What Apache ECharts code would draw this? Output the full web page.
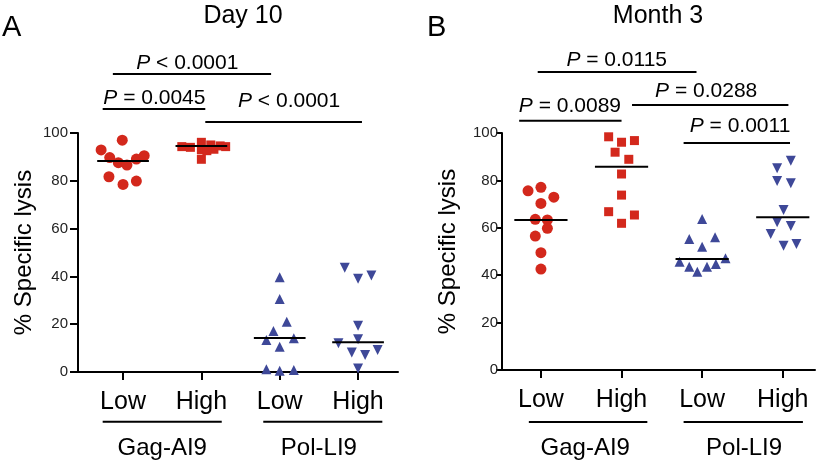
<!DOCTYPE html>
<html><head><meta charset="utf-8">
<script src="https://cdn.jsdelivr.net/npm/echarts@6/dist/echarts.min.js"></script>
<style>html,body{margin:0;padding:0;background:#fff}#c{width:825px;height:462px}</style>
</head><body><div id="c"></div>
<script>
// ---------- data ----------
const categories = ['Low', 'High', 'Low', 'High'];
const groupNames = ['Gag-AI9', 'Pol-LI9'];
const yTicks = [0, 20, 40, 60, 80, 100];
const panelTitles = ['Day 10', 'Month 3'];
const panelLetters = ['A', 'B'];

// Panel A (Day 10) values and horizontal spread (in category units)
const A_gagLow = [92.9, 97.0, 89.7, 87.6, 86.6, 89.1, 90.5, 81.7, 78.5, 79.9];
const A_gagLowJit = [-0.28, -0.01, -0.17, -0.06, 0.05, 0.17, 0.27, -0.18, 0, 0.17];
const A_gagHigh = [94.3, 94.0, 96.1, 93.0, 89.0, 95.0, 93.2, 94.6, 94.3, 92.6];
const A_gagHighJit = [-0.25, -0.14, 0, 0, 0, 0.12, 0.16, 0.24, 0.31, 0.07];
const A_polLow = [39.6, 30.5, 21.0, 17.2, 13.4, 14.1, 10.6, 1.1, 0.5, 0.8];
const A_polLowJit = [0, 0, 0.09, -0.08, -0.17, 0.18, 0, -0.17, 0, 0.18];
const A_polHigh = [43.6, 39.0, 40.4, 19.4, 12.0, 13.7, 8.2, 7.1, 9.2, 1.5];
const A_polHighJit = [-0.17, 0, 0.17, 0, -0.25, 0, -0.08, 0.09, 0.25, 0];
const A_medians = [88.3, 94.6, 14.2, 12.4];

// Panel B (Month 3)
const B_gagLow = [75.6, 77.1, 72.9, 70.3, 63.6, 63.3, 59.8, 56.5, 49.5, 42.6];
const B_gagLowJit = [-0.16, 0, 0.16, 0, -0.07, 0.08, 0.08, -0.07, 0, 0];
const B_gagHigh = [98.4, 96.1, 96.8, 91.9, 88.9, 82.7, 73.8, 66.8, 65.4, 61.9];
const B_gagHighJit = [-0.16, 0, 0.16, -0.08, 0.09, 0, 0, -0.16, 0.16, 0];
const B_polLow = [63.7, 55.3, 56.0, 52.0, 45.7, 43.6, 41.5, 43.6, 44.7, 47.1];
const B_polLowJit = [0, -0.16, 0.16, 0, -0.28, -0.16, -0.06, 0.06, 0.17, 0.29];
const B_polHigh = [88.3, 85.1, 79.7, 78.8, 67.5, 62.3, 60.8, 57.4, 52.4, 53.2];
const B_polHighJit = [0.1, -0.07, -0.07, 0.1, 0.01, -0.07, 0.1, -0.15, 0.01, 0.17];
const B_medians = [63.3, 85.8, 46.8, 64.4];

// significance brackets: [fromX, toX, lineY, labelX, labelY, operator, p]
const A_brackets = [
  [-0.13, 1.89, 124.7, 0.82, 129.3, '<', '0.0001'],
  [-0.26, 1.05, 110.0, 0.40, 114.6, '=', '0.0045'],
  [1.05, 3.05, 104.6, 2.12, 113.4, '<', '0.0001']
];
const B_brackets = [
  [-0.04, 1.93, 125.7, 0.94, 130.8, '=', '0.0115'],
  [-0.27, 1.00, 105.2, 0.36, 111.4, '=', '0.0089'],
  [1.13, 3.07, 111.8, 2.05, 117.8, '=', '0.0288'],
  [1.77, 3.09, 95.8, 2.47, 102.7, '=', '0.0011']
];
// group underline spans and label positions (x units, y units below axis)
const A_groupLines = [[-0.26, 1.26], [1.79, 3.31]];
const A_groupLineY = -20.8, A_groupLabelY = -32.0;
const A_groupLabelX = [0.5, 2.5];
const B_groupLines = [[-0.15, 1.32], [1.77, 3.25]];
const B_groupLineY = -21.9, B_groupLabelY = -33.0;
const B_groupLabelX = [0.55, 2.52];

// ---------- styling ----------
const FONT = "'Liberation Sans', Arial, Helvetica, sans-serif";
const RED = '#d3281c';
const BLUE = '#3e4898';

const chart = echarts.init(document.getElementById('c'), null, {renderer: 'canvas'});

function pts(vals, jit, g) { return vals.map((v, i) => [g + jit[i], v]); }

function panelSeries(p, sets, medians, brackets, gLines, gLineY, gLabelX, gLabelY) {
  const s = [];
  const styles = [
    {symbol: 'circle', size: 11, color: RED, rot: 0},
    {symbol: 'rect', size: 9, color: RED, rot: 0},
    {symbol: 'triangle', size: 10, color: BLUE, rot: 0},
    {symbol: 'triangle', size: 10, color: BLUE, rot: 180}
  ];
  sets.forEach((set, g) => {
    const st = styles[g];
    s.push({
      type: 'scatter', xAxisIndex: p, yAxisIndex: p, z: 2,
      symbol: st.symbol, symbolSize: st.size, symbolRotate: st.rot,
      itemStyle: {color: st.color, opacity: 1},
      data: pts(set[0], set[1], g), silent: true
    });
    s.push({
      type: 'line', xAxisIndex: p, yAxisIndex: p, z: 5, symbol: 'none', silent: true,
      lineStyle: {color: '#000', width: 2},
      data: [[g - 0.33, medians[g]], [g + 0.33, medians[g]]]
    });
  });
  brackets.forEach(b => {
    s.push({
      type: 'line', xAxisIndex: p, yAxisIndex: p, clip: false, symbol: 'none', silent: true,
      lineStyle: {color: '#000', width: 2},
      data: [[b[0], b[2]], [b[1], b[2]]]
    });
    s.push({
      type: 'scatter', xAxisIndex: p, yAxisIndex: p, clip: false, symbolSize: 0, silent: true,
      itemStyle: {opacity: 1},
      data: [[b[3], b[4]]],
      label: {
        show: true, position: [0, 0], align: 'center', verticalAlign: 'middle',
        formatter: '{i|P}{n| ' + b[5] + ' ' + b[6] + '}',
        rich: {
          i: {fontStyle: 'italic', fontSize: 21, fontFamily: FONT, color: '#000'},
          n: {fontSize: 21, fontFamily: FONT, color: '#000'}
        }
      }
    });
  });
  gLines.forEach((gl, k) => {
    s.push({
      type: 'line', xAxisIndex: p, yAxisIndex: p, clip: false, symbol: 'none', silent: true,
      lineStyle: {color: '#000', width: 2},
      data: [[gl[0], gLineY], [gl[1], gLineY]]
    });
    s.push({
      type: 'scatter', xAxisIndex: p, yAxisIndex: p, clip: false, symbolSize: 0, silent: true,
      itemStyle: {opacity: 1},
      data: [[gLabelX[k], gLabelY]],
      label: {show: true, position: [0, 0], align: 'center', verticalAlign: 'middle',
        formatter: groupNames[k], fontSize: 24, fontFamily: FONT, color: '#000'}
    });
  });
  return s;
}

function xAxis(p, min, max) {
  return {
    type: 'value', gridIndex: p, min: min, max: max,
    axisLine: {show: true, onZero: false, lineStyle: {color: '#000', width: 2}},
    axisTick: {show: true, customValues: [0, 1, 2, 3], length: 8, lineStyle: {color: '#000', width: 2}},
    axisLabel: {show: true, customValues: [0, 1, 2, 3], formatter: v => categories[Math.round(v)],
      fontSize: 25, fontFamily: FONT, color: '#000', margin: 18},
    splitLine: {show: false}
  };
}
function yAxis(p, tickLen, margin, gap) {
  return {
    type: 'value', gridIndex: p, min: 0, max: 100, interval: 20,
    name: '% Specific lysis', nameLocation: 'middle', nameGap: gap,
    nameTextStyle: {fontSize: 24, fontFamily: FONT, color: '#000'},
    axisLine: {show: true, onZero: false, lineStyle: {color: '#000', width: 2}},
    axisTick: {show: true, length: tickLen, lineStyle: {color: '#000', width: 2}},
    axisLabel: {fontSize: 15, fontFamily: FONT, color: '#222', margin: margin,
      formatter: v => yTicks.includes(v) ? String(v) : ''},
    splitLine: {show: false}
  };
}

const series = [].concat(
  panelSeries(0,
    [[A_gagLow, A_gagLowJit], [A_gagHigh, A_gagHighJit], [A_polLow, A_polLowJit], [A_polHigh, A_polHighJit]],
    A_medians, A_brackets, A_groupLines, A_groupLineY, A_groupLabelX, A_groupLabelY),
  panelSeries(1,
    [[B_gagLow, B_gagLowJit], [B_gagHigh, B_gagHighJit], [B_polLow, B_polLowJit], [B_polHigh, B_polHighJit]],
    B_medians, B_brackets, B_groupLines, B_groupLineY, B_groupLabelX, B_groupLabelY)
);

chart.setOption({
  animation: false,
  backgroundColor: '#fff',
  grid: [
    {left: 78, top: 133, width: 320, height: 239},
    {left: 502, top: 133, width: 313, height: 237}
  ],
  xAxis: [xAxis(0, -0.575, 3.51), xAxis(1, -0.483, 3.40)],
  yAxis: [yAxis(0, 8, 10, 42), yAxis(1, 6, 4, 42)],
  graphic: [
    {type: 'text', left: 2, top: 13, style: {text: panelLetters[0], fontSize: 29, fontFamily: FONT, fill: '#000'}},
    {type: 'text', left: 427, top: 13, style: {text: panelLetters[1], fontSize: 29, fontFamily: FONT, fill: '#000'}},
    {type: 'text', x: 243, y: 16, style: {text: panelTitles[0], fontSize: 25, fontFamily: FONT, fill: '#000', align: 'center', verticalAlign: 'middle'}},
    {type: 'text', x: 658, y: 16, style: {text: panelTitles[1], fontSize: 25, fontFamily: FONT, fill: '#000', align: 'center', verticalAlign: 'middle'}}
  ],
  series: series
});
</script></body></html>
